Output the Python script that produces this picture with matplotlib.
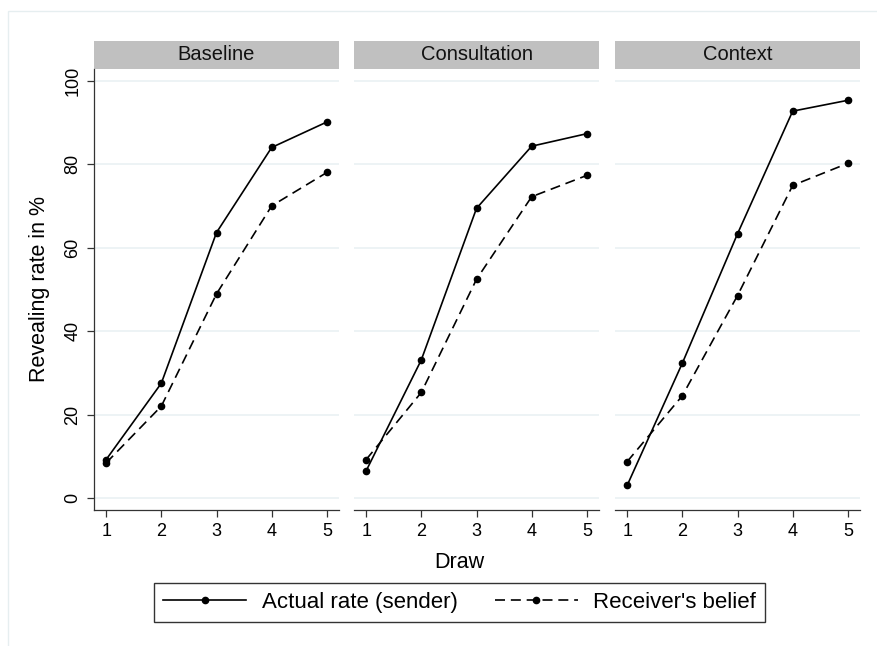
import matplotlib
matplotlib.use("Agg")
import matplotlib.pyplot as plt
from matplotlib.patches import Rectangle
from matplotlib.lines import Line2D

plt.rcParams['font.family'] = ['Liberation Sans', 'DejaVu Sans']

draws = [1, 2, 3, 4, 5]
panels = ["Baseline", "Consultation", "Context"]
actual_baseline = [9.2, 27.5, 63.6, 84.0, 90.1]
belief_baseline = [8.4, 22.0, 48.9, 70.0, 78.0]
actual_consultation = [6.5, 33.1, 69.4, 84.3, 87.3]
belief_consultation = [9.2, 25.3, 52.4, 72.2, 77.3]
actual_context = [3.0, 32.3, 63.3, 92.7, 95.3]
belief_context = [8.7, 24.5, 48.5, 74.9, 80.2]
yticks = [0, 20, 40, 60, 80, 100]
legend_labels = ["Actual rate (sender)", "Receiver's belief"]

actual = [actual_baseline, actual_consultation, actual_context]
belief = [belief_baseline, belief_consultation, belief_context]

W, H = 877, 646
fig = plt.figure(figsize=(W / 100, H / 100), dpi=100)
fig.patch.set_facecolor("white")

# faint outer border
fig.add_artist(Rectangle((8 / W, -0.1), 1.2, (H - 11) / H + 0.1, transform=fig.transFigure,
                         fill=False, edgecolor="#e6eef0", linewidth=1.0))

lefts = [94, 354, 615]
pw = 245
top, bottom = 69, 510
grid_c = "#eaf1f3"
dash = (0, (6, 3.5))
for i, name in enumerate(panels):
    ax = fig.add_axes([lefts[i] / W, 1 - bottom / H, pw / W, (bottom - top) / H])
    ax.set_xlim(0.78, 5.22)
    ax.set_ylim(-2.88, 102.8)
    for y in yticks:
        ax.axhline(y, color=grid_c, linewidth=1.2, zorder=0)
    ax.plot(draws, actual[i], color="black", linestyle="-", linewidth=1.2,
            marker="o", markersize=4.5, zorder=3)
    ax.plot(draws, belief[i], color="black", linestyle=dash, linewidth=1.2,
            marker="o", markersize=4.5, zorder=3)
    for s in ["top", "right"]:
        ax.spines[s].set_visible(False)
    ax.spines["bottom"].set_color("#333333")
    ax.spines["bottom"].set_linewidth(0.9)
    ax.set_xticks(draws)
    ax.set_xticklabels([str(d) for d in draws], fontsize=13)
    ax.tick_params(axis="x", length=5, width=0.9, color="#333333", pad=4)
    if i == 0:
        ax.spines["left"].set_color("#333333")
        ax.spines["left"].set_linewidth(0.9)
        ax.set_yticks(yticks)
        ax.set_yticklabels([str(v) for v in yticks], fontsize=13, rotation=90, va="center")
        ax.tick_params(axis="y", length=5, width=0.9, color="#333333", pad=4)
    else:
        ax.spines["left"].set_visible(False)
        ax.set_yticks([])
    # header
    hh = (top - 41) / (bottom - top)
    ax.add_patch(Rectangle((0, 1.0), 1, hh, transform=ax.transAxes, clip_on=False,
                           facecolor="#c0c0c0", edgecolor="none"))
    ax.text(0.5, 1.0 + hh / 2, name, transform=ax.transAxes, ha="center", va="center",
            fontsize=14.5, color="#111111")

fig.text(40 / W, 1 - 289 / H, "Revealing rate in %", rotation=90, ha="center", va="center",
         fontsize=15.5)
fig.text(459 / W, 1 - 563 / H, "Draw", ha="center", va="center", fontsize=15.5)

handles = [Line2D([], [], color="black", linestyle="-", linewidth=1.2, marker="o", markersize=4.5),
           Line2D([], [], color="black", linestyle=dash, linewidth=1.2, marker="o", markersize=4.5)]
leg = fig.legend(handles, legend_labels, loc="center", bbox_to_anchor=(459.5 / W, 1 - 602.5 / H),
                 ncol=2, fontsize=16, frameon=True, fancybox=False, handlelength=3.74,
                 numpoints=1, columnspacing=1.67, handletextpad=0.68, borderpad=0.4,
                 borderaxespad=0, edgecolor="black")
leg.get_frame().set_linewidth(1.0)

fig.savefig("out.png", dpi=100, facecolor="white")
